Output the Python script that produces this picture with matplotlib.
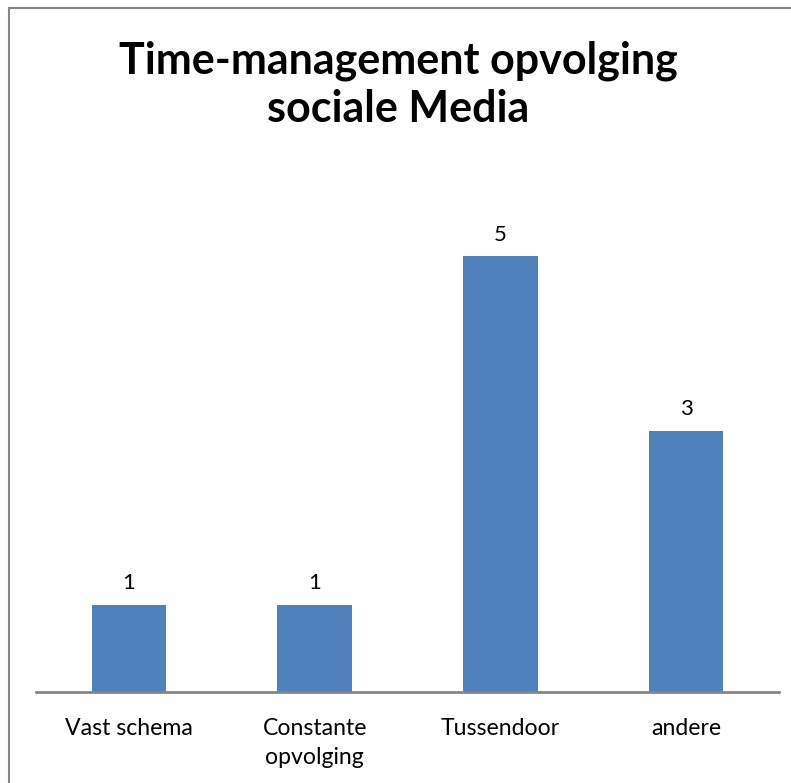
import matplotlib.pyplot as plt
from matplotlib.lines import Line2D

categories = ["Vast schema", "Constante\nopvolging", "Tussendoor", "andere"]
counts = [1, 1, 5, 3]
title = "Time-management opvolging\nsociale Media"

BAR_COLOR = "#4F81BD"
AXIS_COLOR = "#868686"
FONT = ["Lato", "DejaVu Sans"]

W, H = 791, 783
fig = plt.figure(figsize=(W / 100, H / 100), dpi=100)

# plot area in pixel terms: x 36..779, baseline at y=692, top at y=169
ax = fig.add_axes([36 / W, (H - 692) / H, (779 - 36) / W, (692 - 169) / H])
x = range(len(categories))
bars = ax.bar(x, counts, width=0.4, color=BAR_COLOR, zorder=2)
ax.set_xlim(-0.5, len(categories) - 0.5)
ax.set_ylim(0, 6)

for rect, val in zip(bars, counts):
    ax.annotate(str(val), (rect.get_x() + rect.get_width() / 2, rect.get_height()),
                xytext=(0, 15.5), textcoords="offset points", ha="center", va="center",
                fontsize=16, family=FONT, color="black")

ax.set_xticks(list(x))
ax.set_xticklabels(categories, fontsize=16.6, family=FONT, linespacing=1.45)
ax.tick_params(axis="x", length=0, pad=19)
ax.set_yticks([])
for side in ("top", "right", "left"):
    ax.spines[side].set_visible(False)
ax.spines["bottom"].set_color(AXIS_COLOR)
ax.spines["bottom"].set_linewidth(2)

fig.text(398 / W, 1 - 85 / H, title, ha="center", va="center", fontsize=31,
         fontweight="bold", family=FONT, linespacing=1.25)

# chart frame: top and left edges
fig.add_artist(Line2D([9 / W, 1], [1 - 8 / H, 1 - 8 / H], color=AXIS_COLOR, lw=1.5,
                      transform=fig.transFigure))
fig.add_artist(Line2D([9 / W, 9 / W], [0, 1 - 8 / H], color=AXIS_COLOR, lw=1.5,
                      transform=fig.transFigure))

fig.savefig("out.png", dpi=100)
